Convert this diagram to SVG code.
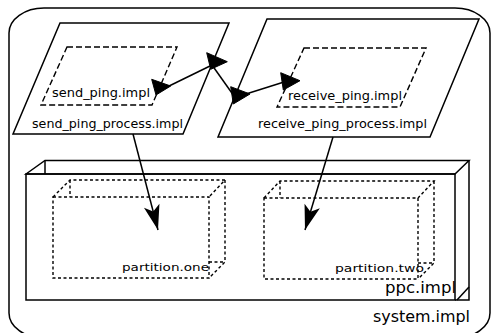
<svg xmlns="http://www.w3.org/2000/svg" width="491" height="333" viewBox="0 0 491 333">
<defs>
<style>
.s{fill:none;stroke:#000;stroke-width:1.5}
.w{fill:#fff;stroke:#000;stroke-width:1.5}
.d{fill:none;stroke:#000;stroke-width:1.4;stroke-dasharray:6,3}
.p{fill:none;stroke:#000;stroke-width:1.4;stroke-dasharray:3,2.5}
.port{fill:#000;stroke:#000;stroke-width:1}
.t{font-family:"DejaVu Sans",sans-serif;fill:#000}
.c{stroke:#000;stroke-width:1.5;fill:none}
</style>
<marker id="ah" markerUnits="userSpaceOnUse" markerWidth="30" markerHeight="20" refX="0" refY="0" viewBox="-26 -10 30 20" orient="auto">
<path d="M0,0 L-25,-8 L-19,0 L-25,8 Z" fill="#000"/>
</marker>
</defs>
<rect x="0" y="0" width="491" height="333" fill="#fff"/>
<g id="system_impl">
<rect class="s" x="9" y="8" width="481" height="330" rx="35" ry="25"/>
<text class="t" x="373" y="322" font-size="16" textLength="97" lengthAdjust="spacingAndGlyphs">system.impl</text>
</g>
<g id="ppc_impl">
<rect class="s" x="26" y="174" width="429" height="126"/>
<polygon class="s" points="26,174 45,160.5 469,160.5 455,174"/>
<line class="s" x1="45" y1="160.5" x2="45" y2="174"/>
<polyline class="s" points="469,160.5 469,300 455,300"/>
<line class="s" x1="457" y1="300" x2="469" y2="287"/>
<text class="t" x="385" y="293" font-size="16" textLength="71" lengthAdjust="spacingAndGlyphs">ppc.impl</text>
</g>
<g id="partition_one">
<rect class="p" x="53" y="197" width="156" height="81"/>
<polyline class="p" points="53,197 70,180 225,180 209,197"/>
<line class="p" x1="70" y1="180" x2="70" y2="197"/>
<polyline class="p" points="225,180 225,262 209,278"/>
<line class="p" x1="209" y1="262" x2="225" y2="262"/>
<text class="t" x="122" y="271" font-size="11" textLength="87" lengthAdjust="spacingAndGlyphs">partition.one</text>
</g>
<g id="partition_two">
<rect class="p" x="264" y="198" width="154" height="81"/>
<polyline class="p" points="264,198 280,181 434,181 418,198"/>
<line class="p" x1="280" y1="181" x2="280" y2="198"/>
<polyline class="p" points="434,181 434,263 418,279"/>
<line class="p" x1="418" y1="263" x2="434" y2="263"/>
<text class="t" x="335" y="272" font-size="11" textLength="89" lengthAdjust="spacingAndGlyphs">partition.two</text>
</g>
<g id="send_ping_process_impl">
<polygon class="w" points="60,23 229,23 183,134 13,134"/>
<text class="t" x="32" y="128" font-size="12.7" textLength="151" lengthAdjust="spacingAndGlyphs">send_ping_process.impl</text>
</g>
<g id="receive_ping_process_impl">
<polygon class="w" points="267,19 479,19 430,137 218,137"/>
<text class="t" x="258" y="128" font-size="12.7" textLength="169" lengthAdjust="spacingAndGlyphs">receive_ping_process.impl</text>
</g>
<g id="send_ping_impl">
<polygon class="d" points="67,47 177,47 152,105 41,105"/>
<text class="t" x="52" y="97" font-size="12.7" textLength="98" lengthAdjust="spacingAndGlyphs">send_ping.impl</text>
</g>
<g id="receive_ping_impl">
<polygon class="d" points="304,48 426,48 400,107 277,107"/>
<text class="t" x="288" y="100" font-size="12.7" textLength="114" lengthAdjust="spacingAndGlyphs">receive_ping.impl</text>
</g>
<g id="connectors">
<line class="c" x1="165" y1="88" x2="210" y2="66"/>
<line class="c" x1="212" y1="65" x2="234" y2="96"/>
<line class="c" x1="246" y1="94" x2="284" y2="82"/>
<line class="c" x1="133" y1="134" x2="158" y2="230" marker-end="url(#ah)"/>
<line class="c" x1="333" y1="137" x2="305" y2="230" marker-end="url(#ah)"/>
</g>
<g id="ports">
<polygon class="port" points="151.7,79.3 156,95 170.7,86"/>
<polygon class="port" points="206.7,52.7 210.7,69.3 227.3,61.7"/>
<polygon class="port" points="230.7,86.7 233.3,104 250,94"/>
<polygon class="port" points="280.7,72.7 283.3,90 300,80.7"/>
</g>
</svg>
